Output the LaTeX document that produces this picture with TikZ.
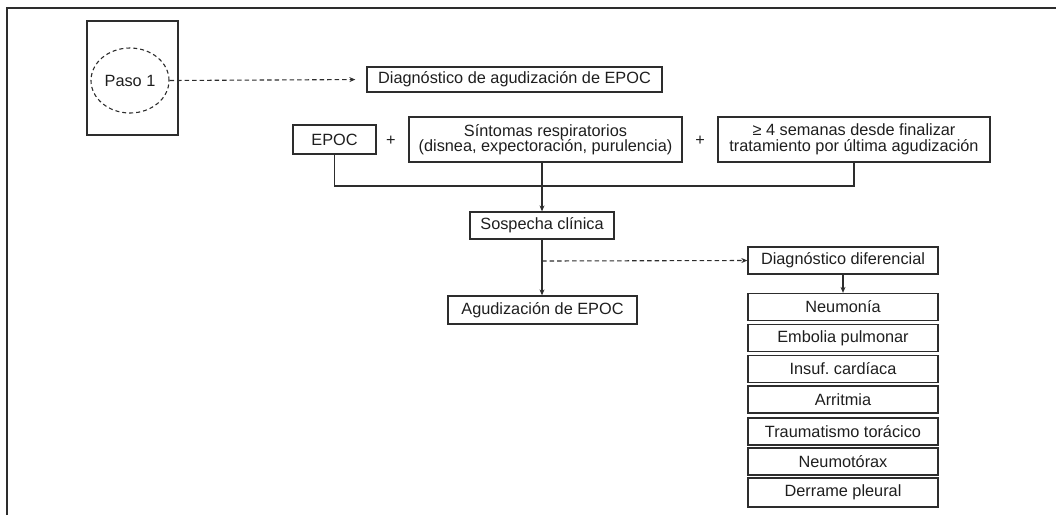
\documentclass[tikz,border=0pt]{standalone}
\usepackage{fontspec}
\setmainfont{Liberation Sans}
\usetikzlibrary{arrows.meta,shapes.geometric}
\frenchspacing
\definecolor{ln}{RGB}{45,45,45}
\definecolor{tx}{RGB}{30,30,30}
\tikzset{
  box/.style={draw=ln,line width=1.3pt,rectangle,inner sep=0pt,text=tx,align=center,font=\fontsize{16.3}{15.5}\selectfont},
  lbl/.style={inner sep=0pt,text=tx,font=\fontsize{16.3}{15.5}\selectfont},
  conn/.style={draw=ln,line width=1.2pt},
  arr/.style={conn,-{Stealth[length=6pt,width=5pt]}},
  dsh/.style={draw=ln,line width=1.1pt,dash pattern=on 4.5pt off 3pt},
  lbox/.style={box,minimum width=190pt,minimum height=27pt}
}
\begin{document}
\begin{tikzpicture}[x=1pt,y=-1pt]
\useasboundingbox (0,0) rectangle (1056,515);
% outer frame (top and left only)
\draw[draw=ln,line width=2pt] (7,515) -- (7,8) -- (1056,8);
% Paso 1
\node[box,minimum width=91pt,minimum height=114pt] (pasobox) at (132.5,78) {};
\node[lbl,draw=ln,line width=1.1pt,dash pattern=on 4pt off 3pt,ellipse,minimum width=78pt,minimum height=65pt] (paso) at (130,80.5) {Paso 1};
\node[box,minimum width=295pt,minimum height=25pt] (diag) at (514.5,79.5) {Diagnóstico de agudización de EPOC};
\draw[dsh,-{Stealth[length=6pt,width=5pt]},shorten >=11pt] (paso.east) -- (diag.west);
% row 2
\node[box,minimum width=83pt,minimum height=29pt] (epoc) at (334.5,139.5) {EPOC};
\node[lbl] (plus1) at (391,141) {+};
\node[box,minimum width=273pt,minimum height=45pt] (sint) at (545.5,139.5) {Síntomas respiratorios\\(disnea, expectoración, purulencia)};
\node[lbl] (plus2) at (700,141) {+};
\node[box,minimum width=272pt,minimum height=45pt] (sem) at (854,139.5) {≥ 4 semanas desde finalizar\\tratamiento por última agudización};
\coordinate (jl) at (334.5,186);
\coordinate (jr) at (854,186);
\draw[conn] (epoc.south) -- (jl) -- (jr) -- (sem.south);
% middle column
\node[box,minimum width=144pt,minimum height=27pt] (sosp) at (542,225.5) {Sospecha clínica};
\node[box,minimum width=189pt,minimum height=28pt] (agud) at (542.5,310) {Agudización de EPOC};
\draw[arr] (sint.south -| sosp.north) -- (sosp.north);
\draw[arr] (sosp.south) -- (sosp.south |- agud.north);
% differential
\node[box,minimum width=190pt,minimum height=27pt] (dd) at (843,260.5) {Diagnóstico diferencial};
\coordinate (br) at (542,261);
\draw[dsh,-{Stealth[length=6pt,width=5pt]}] (br) -- (dd.west);
\node[lbox] (n1) at (843,307) {Neumonía};
\node[lbox] (n2) at (843,338) {Embolia pulmonar};
\node[lbox] (n3) at (843,369) {Insuf. cardíaca};
\node[lbox] (n4) at (843,399.5) {Arritmia};
\node[lbox] (n5) at (843,431.5) {Traumatismo torácico};
\node[lbox] (n6) at (843,461.5) {Neumotórax};
\node[lbox,minimum height=29pt] (n7) at (843,492.5) {Derrame pleural};
\draw[arr] (dd.south) -- (n1.north);
\end{tikzpicture}
\end{document}
